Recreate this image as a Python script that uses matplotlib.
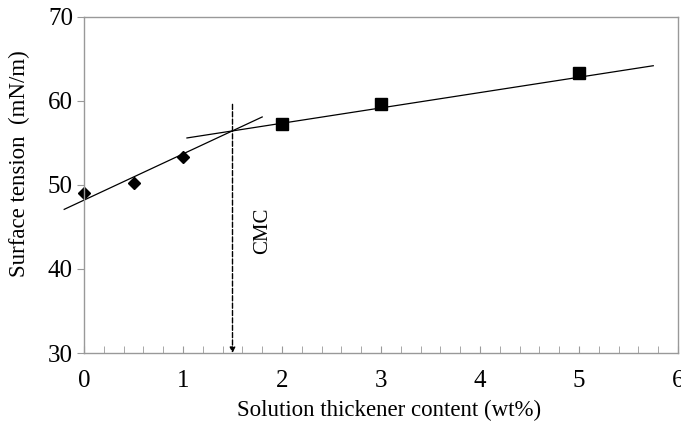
import matplotlib.pyplot as plt
import numpy as np

# data
x_low = [0, 0.5, 1]
y_low = [49.05, 50.2, 53.3]
x_high = [2, 3, 5]
y_high = [57.3, 59.6, 63.3]

# fit lines (end points)
fit1_x = [-0.2, 1.8]
fit1_y = [47.1, 58.1]
fit2_x = [1.04, 5.75]
fit2_y = [55.6, 64.2]

cmc_x = 1.5
cmc_top = 59.6

plt.rcParams['font.family'] = ['Liberation Serif', 'DejaVu Serif']

fig = plt.figure(figsize=(6.81, 4.24), dpi=100)
ax = fig.add_axes([84 / 681, 1 - 353 / 424, (678 - 84) / 681, (353 - 17) / 424])

ax.plot(fit1_x, fit1_y, color='black', lw=0.9, clip_on=False)
ax.plot(fit2_x, fit2_y, color='black', lw=0.9, clip_on=False)
ax.plot(x_low, y_low, 'D', color='black', ms=6, clip_on=False)
ax.plot(x_high, y_high, 's', color='black', ms=8, clip_on=False)

ax.annotate('', xy=(cmc_x, 30), xytext=(cmc_x, cmc_top),
            arrowprops=dict(arrowstyle='-|>', linestyle='--', color='black',
                            lw=1.0, mutation_scale=8, shrinkA=0, shrinkB=0))
ax.text(1.80, 44.6, 'CMC', rotation=90, ha='center', va='center', fontsize=15)

ax.set_xlim(0, 6)
ax.set_ylim(30, 70)
ax.set_xticks(range(0, 7))
ax.set_xticks(np.arange(0, 6.01, 0.2), minor=True)
ax.set_yticks(range(30, 71, 10))

for s in ax.spines.values():
    s.set_color('#999999')
    s.set_linewidth(1.0)

ax.tick_params(axis='x', direction='in', length=5, color='#999999', labelsize=18, pad=12)
ax.tick_params(axis='x', which='minor', direction='in', length=5, color='#999999')
ax.tick_params(axis='y', direction='out', length=5, color='#999999', labelsize=18, pad=3)

ax.set_xlabel('Solution thickener content (wt%)', fontsize=16.5)
ax.xaxis.set_label_coords((389 - 84) / 594, -(400 - 353) / 336)
ax.set_ylabel('Surface tension  (mN/m)', fontsize=16.5)
ax.yaxis.set_label_coords(-(84 - 30) / 594, (353 - 164) / 336)

fig.savefig('out.png', dpi=100)
